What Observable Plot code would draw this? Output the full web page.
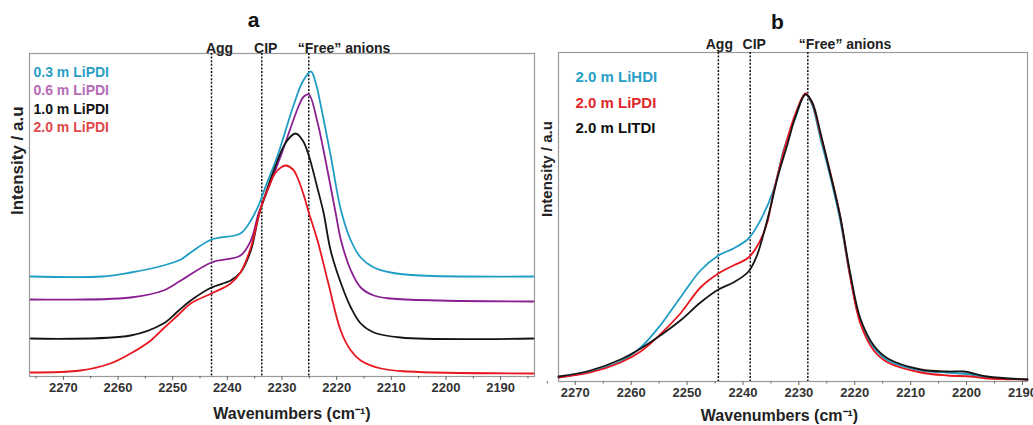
<!DOCTYPE html>
<html><head><meta charset="utf-8">
<script src="https://cdn.jsdelivr.net/npm/d3@7"></script>
<script src="https://cdn.jsdelivr.net/npm/@observablehq/plot@0.6"></script>
<style>
body{margin:0;background:#fff;}
#wrap{display:flex;width:1033px;height:425px;overflow:hidden;}
#wrap svg{display:block;flex:none;}
</style></head><body><div id="wrap"></div>
<script>
// ---------- Panel a data (wavenumber, intensity a.u.) ----------
const aSeries = ["0.3 m LiPDI", "0.6 m LiPDI", "1.0 m LiPDI", "2.0 m LiPDI"];
const a03Wn = [2276, 2263, 2257.7, 2251.7, 2248.5, 2246.7, 2242.9, 2237.6, 2235.7, 2234.3, 2233.0, 2230.8, 2227.9, 2226.2, 2224.7, 2223.8, 2222.9, 2221.1, 2219.2, 2217.4, 2215.6, 2213.2, 2210.1, 2204.6, 2184];
const a03I  = [100, 100, 104, 111, 117, 124, 137, 143, 156, 171, 190, 221, 271, 295, 305, 293, 271, 221, 166, 136, 119, 109, 104, 101, 100];
const a06Wn = [2276, 2257.7, 2251.7, 2248.5, 2242.9, 2237.6, 2235.7, 2234.3, 2233.5, 2230.2, 2226.9, 2226.0, 2225.1, 2223.5, 2221.6, 2220.2, 2219.2, 2217.4, 2215.6, 2213.2, 2210.1, 2201, 2184];
const a06I  = [77, 79, 86, 96, 114, 121, 136, 163, 174, 221, 271, 280, 282, 254, 204, 164, 136, 106, 89, 81, 78, 76, 75];
const a10Wn = [2276, 2257.7, 2251.7, 2249.1, 2246.7, 2242.9, 2239.4, 2237.6, 2235.7, 2234.3, 2233.3, 2231.5, 2229.3, 2227.5, 2226.2, 2225.1, 2223.5, 2222.4, 2221.1, 2219.2, 2217.4, 2215.6, 2213.2, 2208.3, 2184];
const a10I  = [38, 41, 53, 65, 76, 89, 96, 104, 126, 160, 178, 206, 234, 243, 236, 221, 188, 164, 126, 93, 69, 53, 44, 39, 38];
const a20Wn = [2276, 2266.9, 2261.4, 2257.7, 2254.0, 2251.7, 2249.1, 2246.7, 2242.9, 2239.4, 2237.6, 2235.7, 2234.3, 2233.5, 2232.4, 2231.3, 2230.2, 2229.3, 2228.0, 2227.1, 2226.0, 2225.1, 2223.5, 2221.6, 2219.2, 2217.4, 2215.6, 2211.9, 2207.0, 2184];
const a20I  = [4, 6, 13, 23, 36, 48, 61, 73, 83, 93, 104, 129, 160, 175, 190, 203, 209, 211, 207, 198, 181, 164, 136, 95, 45, 26, 16, 8, 5, 3];
const aMarkers = [2242.9, 2233.7, 2225.1];
const aMarkerLabels = ["Agg", "CIP", "\u201CFree\u201D anions"];

// ---------- Panel b data ----------
const bSeries = ["2.0 m LiHDI", "2.0 m LiPDI", "2.0 m LITDI"];
const bHdiWn = [2273, 2267.3, 2261.9, 2258.3, 2254.8, 2251.2, 2247.6, 2244.4, 2241.7, 2239.0, 2236.9, 2234.5, 2232.7, 2230.6, 2228.8, 2227.6, 2226.1, 2224.3, 2222.6, 2220.8, 2219.0, 2216.6, 2214.1, 2208.2, 2203.4, 2199.3, 2196.3, 2189.1];
const bHdiI  = [4, 10, 20, 34, 56, 84, 111, 126, 133, 143, 161, 192, 232, 264, 288, 276, 242, 203, 161, 104, 60, 34, 21, 11, 9, 7, 4, 2];
const bPdiWn = [2273, 2267.3, 2261.9, 2258.3, 2254.8, 2251.2, 2247.6, 2244.4, 2241.7, 2239.0, 2236.9, 2235.6, 2234.5, 2232.0, 2230.6, 2228.8, 2227.6, 2226.1, 2224.3, 2222.6, 2220.8, 2219.0, 2216.6, 2214.1, 2208.2, 2203.4, 2199.3, 2196.3, 2189.1];
const bPdiI  = [4, 9, 19, 30, 47, 68, 94, 108, 116, 124, 141, 160, 190, 244, 268, 288, 278, 246, 207, 165, 104, 58, 31, 19, 9, 6, 5, 3, 2];
const bTdiWn = [2273, 2267.3, 2261.9, 2258.3, 2254.8, 2251.2, 2247.6, 2244.4, 2241.7, 2239.0, 2237.5, 2236.2, 2235.0, 2233.8, 2232.0, 2230.6, 2228.8, 2227.6, 2226.1, 2224.3, 2222.6, 2220.8, 2219.0, 2216.6, 2214.1, 2208.2, 2203.4, 2200.5, 2196.3, 2189.1];
const bTdiI  = [5, 11, 22, 33, 46, 61, 79, 92, 99, 110, 126, 150, 176, 204, 238, 265, 287, 279, 248, 206, 165, 108, 63, 36, 23, 12, 10, 10, 5, 2];
const bMarkers = [2244.4, 2238.7, 2228.4];
const bMarkerLabels = ["Agg", "CIP", "\u201CFree\u201D anions"];

const xTicks = [2270, 2260, 2250, 2240, 2230, 2220, 2210, 2200, 2190];
const xMinor = [2275, 2265, 2255, 2245, 2235, 2225, 2215, 2205, 2195, 2185];

// ---------- styles ----------
const aLineColors = ["#1f9dc4", "#8a1f92", "#151515", "#e8161f"];
const aTextColors = ["#2a9fc6", "#b56ab8", "#111111", "#e0484a"];
const bLineColors = ["#1f9dc4", "#e8161f", "#151515"];
const bTextColors = ["#2a9fc6", "#e0282c", "#111111"];
const FONT = "'Liberation Sans', Arial, Helvetica, sans-serif";

function toRows(wn, I) {
  return wn.map((w, i) => ({wn: w, I: I[i]})).sort((p, q) => q.wn - p.wn);
}

function panel(cfg) {
  const marks = [
    Plot.frame({stroke: "#9a9a9a", strokeWidth: 1.2}),
    Plot.ruleX(cfg.markers, {stroke: "#111", strokeWidth: 1.5, strokeDasharray: "2,1.6"}),
  ];
  cfg.curves.forEach((c, i) => {
    marks.push(Plot.line(toRows(c[0], c[1]), {x: "wn", y: "I", stroke: cfg.lineColors[i], strokeWidth: 1.8, curve: "catmull-rom"}));
  });
  cfg.markerLabels.forEach((t, i) => {
    marks.push(Plot.text([t], {x: () => cfg.markers[i], text: d => d, frameAnchor: "top", lineAnchor: "bottom",
      dy: cfg.annotDy, dx: cfg.annotDx[i], textAnchor: cfg.annotAnchor[i], fontSize: 14, fontWeight: "bold", fill: "#222"}));
  });
  cfg.series.forEach((s, i) => {
    marks.push(Plot.text([s], {text: d => d, frameAnchor: "top-left", textAnchor: "start", lineAnchor: "middle",
      dx: cfg.legendDx, dy: cfg.legendDy0 + i * cfg.legendStep, fontSize: cfg.legendSize, fontWeight: "bold", fill: cfg.textColors[i]}));
  });
  marks.push(
    Plot.axisX({ticks: xTicks, tickSize: 4, tickPadding: 2, tickFormat: d => String(d), label: null,
      fontSize: 13, fontWeight: "bold", fill: "#333", stroke: "#666"}),
    Plot.axisX({ticks: xMinor, tickSize: 2.5, text: null, label: null, stroke: "#666"}),
    Plot.text(["Wavenumbers (cm\u207B\u00B9)"], {text: d => d, frameAnchor: "bottom", lineAnchor: "middle",
      dx: cfg.xlabDx, dy: cfg.xlabDy, fontSize: 16, fontWeight: "bold", fill: "#222"}),
    Plot.text(["Intensity / a.u"], {text: d => d, frameAnchor: "left", rotate: -90, lineAnchor: "middle",
      dx: -11.5, fontSize: cfg.ylabSize, fontWeight: "bold", fill: "#222"}),
    Plot.text([cfg.title], {text: d => d, frameAnchor: "top-left", lineAnchor: "middle", textAnchor: "middle",
      dx: cfg.titleDx, dy: cfg.titleDy, fontSize: 21, fontWeight: "bold", fill: "#111"})
  );
  return Plot.plot({
    width: cfg.width, height: 425,
    marginLeft: cfg.ml, marginTop: cfg.mt, marginRight: cfg.mr, marginBottom: cfg.mb,
    x: {domain: cfg.xDomain},
    y: {domain: cfg.yDomain, axis: null},
    style: {fontFamily: FONT, background: "white", overflow: "visible"},
    marks
  });
}

const wrap = document.getElementById("wrap");
wrap.appendChild(panel({
  width: 540, ml: 29, mt: 53, mr: 6, mb: 49,
  xDomain: [2276.2, 2183.8], yDomain: [0, 323],
  curves: [[a03Wn, a03I], [a06Wn, a06I], [a10Wn, a10I], [a20Wn, a20I]],
  lineColors: aLineColors, textColors: aTextColors, series: aSeries,
  markers: aMarkers, markerLabels: aMarkerLabels,
  annotDx: [8, 4, -11], annotAnchor: ["middle", "middle", "start"], annotDy: -0.5,
  legendDx: 4, legendDy0: 19, legendStep: 18.5, legendSize: 14,
  xlabDx: 10, xlabDy: 37, ylabSize: 17,
  title: "a", titleDx: 224, titleDy: -33
}));
wrap.appendChild(panel({
  width: 493, ml: 18, mt: 52, mr: 6, mb: 44,
  xDomain: [2273, 2189.1], yDomain: [0, 329],
  curves: [[bHdiWn, bHdiI], [bPdiWn, bPdiI], [bTdiWn, bTdiI]],
  lineColors: bLineColors, textColors: bTextColors, series: bSeries,
  markers: bMarkers, markerLabels: bMarkerLabels,
  annotDx: [1, 4, -9], annotAnchor: ["middle", "middle", "start"], annotDy: -4,
  legendDx: 17, legendDy0: 25, legendStep: 25.5, legendSize: 15,
  xlabDx: -13.5, xlabDy: 34, ylabSize: 15,
  title: "b", titleDx: 219, titleDy: -30
}));
</script></body></html>
